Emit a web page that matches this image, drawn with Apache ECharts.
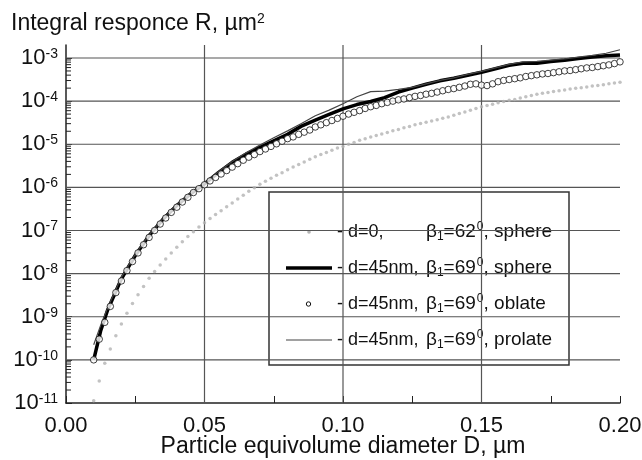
<!DOCTYPE html>
<html><head><meta charset="utf-8">
<script src="https://cdn.jsdelivr.net/npm/echarts@6/dist/echarts.min.js"></script>
<style>html,body{margin:0;padding:0;background:#fff}#c{width:642px;height:460px}</style>
</head><body><div id="c"></div>
<script>
// Particle diameter D (µm) for the dotted / circle series
const dotD = [0.010,0.012,0.014,0.016,0.018,0.020,0.022,0.024,0.026,0.028,
  0.030,0.032,0.034,0.036,0.038,0.040,0.042,0.044,0.046,0.048,
  0.050,0.052,0.054,0.056,0.058,0.060,0.062,0.064,0.066,0.068,
  0.070,0.072,0.074,0.076,0.078,0.080,0.082,0.084,0.086,0.088,
  0.090,0.092,0.094,0.096,0.098,0.100,0.102,0.104,0.106,0.108,
  0.110,0.112,0.114,0.116,0.118,0.120,0.122,0.124,0.126,0.128,
  0.130,0.132,0.134,0.136,0.138,0.140,0.142,0.144,0.146,0.148,
  0.150,0.152,0.154,0.156,0.158,0.160,0.162,0.164,0.166,0.168,
  0.170,0.172,0.174,0.176,0.178,0.180,0.182,0.184,0.186,0.188,
  0.190,0.192,0.194,0.196,0.198,0.200];
// log10(R): d=0, beta1=62°, sphere (gray dots)
const sphere0Log = [-10.95,-10.49,-10.08,-9.75,-9.44,-9.17,-8.92,-8.69,-8.49,-8.30,
  -8.11,-7.95,-7.80,-7.66,-7.52,-7.39,-7.26,-7.14,-7.03,-6.92,
  -6.82,-6.72,-6.63,-6.54,-6.45,-6.36,-6.27,-6.18,-6.09,-6.01,
  -5.93,-5.86,-5.79,-5.72,-5.66,-5.59,-5.53,-5.47,-5.41,-5.35,
  -5.29,-5.24,-5.19,-5.14,-5.09,-5.05,-5.00,-4.96,-4.91,-4.87,
  -4.83,-4.80,-4.76,-4.73,-4.69,-4.66,-4.62,-4.59,-4.55,-4.52,
  -4.49,-4.46,-4.43,-4.40,-4.37,-4.33,-4.29,-4.25,-4.21,-4.17,
  -4.13,-4.10,-4.07,-4.04,-4.01,-3.98,-3.96,-3.93,-3.90,-3.87,
  -3.84,-3.82,-3.80,-3.78,-3.76,-3.74,-3.72,-3.70,-3.69,-3.67,
  -3.65,-3.64,-3.62,-3.60,-3.58,-3.56];
// log10(R): d=45nm, beta1=69°, oblate (open circles)
const oblateLog = [-10.00,-9.52,-9.13,-8.76,-8.44,-8.17,-7.93,-7.72,-7.52,-7.33,
  -7.16,-7.00,-6.85,-6.71,-6.58,-6.46,-6.34,-6.23,-6.12,-6.03,
  -5.94,-5.85,-5.77,-5.69,-5.61,-5.53,-5.45,-5.37,-5.30,-5.24,
  -5.17,-5.11,-5.05,-4.99,-4.93,-4.87,-4.83,-4.77,-4.72,-4.67,
  -4.60,-4.55,-4.50,-4.45,-4.40,-4.35,-4.30,-4.26,-4.22,-4.17,
  -4.13,-4.10,-4.06,-4.03,-4.00,-3.97,-3.95,-3.92,-3.89,-3.87,
  -3.84,-3.82,-3.79,-3.76,-3.73,-3.71,-3.68,-3.65,-3.61,-3.60,
  -3.63,-3.64,-3.60,-3.55,-3.52,-3.50,-3.48,-3.46,-3.43,-3.41,
  -3.39,-3.37,-3.36,-3.34,-3.32,-3.30,-3.29,-3.27,-3.25,-3.23,
  -3.22,-3.20,-3.18,-3.16,-3.13,-3.09];
// D (µm) for the two solid lines
const lineD = [0.010,0.0125,0.015,0.020,0.025,0.030,0.035,0.040,0.045,0.050,
  0.055,0.060,0.065,0.070,0.075,0.080,0.085,0.090,0.095,0.100,
  0.105,0.110,0.115,0.120,0.125,0.130,0.135,0.140,0.145,0.150,
  0.155,0.160,0.165,0.170,0.175,0.180,0.185,0.190,0.195,0.200];
// log10(R): d=45nm, beta1=69°, sphere (thick black line)
const sphere45Log = [-10.00,-9.33,-8.85,-8.12,-7.58,-7.12,-6.74,-6.42,-6.15,-5.92,
  -5.66,-5.42,-5.23,-5.07,-4.92,-4.77,-4.58,-4.44,-4.31,-4.18,
  -4.08,-4.01,-3.92,-3.79,-3.70,-3.61,-3.53,-3.47,-3.40,-3.33,
  -3.25,-3.17,-3.12,-3.12,-3.08,-3.05,-3.01,-2.98,-2.95,-2.93];
// log10(R): d=45nm, beta1=69°, prolate (thin line)
const prolateLog = [-9.65,-9.20,-8.80,-8.08,-7.55,-7.10,-6.72,-6.40,-6.13,-5.89,
  -5.64,-5.40,-5.20,-5.02,-4.85,-4.69,-4.52,-4.34,-4.21,-4.06,
  -3.90,-3.78,-3.77,-3.73,-3.68,-3.60,-3.52,-3.46,-3.38,-3.31,
  -3.23,-3.15,-3.09,-3.08,-3.05,-3.02,-2.98,-2.94,-2.89,-2.81];

const xGridValues = [0.05, 0.10, 0.15];
const yDecadeExps = [-10,-9,-8,-7,-6,-5,-4,-3];
const yMinorMultipliers = [2,3,4,5,6,7,8,9];
const X_MIN = 0, X_MAX = 0.2, Y_MIN = 1e-11, Y_MAX = 2e-3;

const FONT = '"Liberation Sans", Arial, sans-serif';
const pair = (xs, ls) => xs.map((x, i) => [x, Math.pow(10, ls[i])]);

const minorTicks = [];
for (let e = -11; e <= -4; e++) yMinorMultipliers.forEach(k => minorTicks.push([X_MIN, k * Math.pow(10, e)]));

// gridline segments [x1, y1, x2, y2] in data units
const gridSegs = yDecadeExps.map(e => [X_MIN, Math.pow(10, e), X_MAX, Math.pow(10, e)])
  .concat(xGridValues.map(v => [v, Y_MIN, v, Y_MAX]));

const chart = echarts.init(document.getElementById('c'), null, { renderer: 'canvas' });
chart.setOption({
  animation: false,
  backgroundColor: '#fff',
  grid: { left: 66, right: 22, top: 45, bottom: 57, containLabel: false, outerBoundsMode: 'none' },
  xAxis: {
    type: 'value', min: X_MIN, max: X_MAX, interval: 0.05,
    name: 'Particle equivolume diameter D, µm', nameLocation: 'middle', nameGap: 32,
    nameMoveOverlap: false,
    nameTextStyle: { fontFamily: FONT, fontSize: 23, color: '#111' },
    axisLine: { show: true, lineStyle: { color: '#222', width: 1.5 } },
    axisTick: { show: true, inside: true, length: 7, lineStyle: { color: '#222', width: 1 } },
    minorTick: { show: true, splitNumber: 2, length: 7, lineStyle: { color: '#222', width: 1 } },
    axisLabel: { fontFamily: FONT, fontSize: 22, color: '#111', margin: 12,
      formatter: v => v.toFixed(2) },
    splitLine: { show: false }
  },
  yAxis: {
    type: 'log', logBase: 10, min: Y_MIN, max: Y_MAX,
    axisLine: { show: true, lineStyle: { color: '#222', width: 1.5 } },
    axisTick: { show: true, inside: true, length: 6, lineStyle: { color: '#222', width: 1 } },
    axisLabel: {
      showMaxLabel: false, margin: 8, color: '#111',
      formatter: v => '{b|10}{s|' + Math.round(Math.log10(v)) + '}',
      rich: {
        b: { fontFamily: FONT, fontSize: 22, lineHeight: 22, color: '#111' },
        s: { fontFamily: FONT, fontSize: 14, lineHeight: 14, color: '#111', verticalAlign: 'top' }
      }
    },
    splitLine: { show: false }
  },
  series: [
    {
      type: 'custom', name: 'gridlines', silent: true, z: 1,
      data: gridSegs,
      renderItem: (params, api) => {
        const a = api.coord([api.value(0), api.value(1)]);
        const b = api.coord([api.value(2), api.value(3)]);
        return { type: 'line', shape: { x1: a[0], y1: a[1], x2: b[0], y2: b[1] },
          style: { stroke: '#555', lineWidth: 1.2 } };
      }
    },
    {
      type: 'custom', name: 'minorTicks', silent: true, z: 1,
      data: minorTicks,
      renderItem: (params, api) => {
        const p = api.coord([api.value(0), api.value(1)]);
        return { type: 'line', shape: { x1: p[0], y1: p[1], x2: p[0] + 5, y2: p[1] },
          style: { stroke: '#222', lineWidth: 1 } };
      }
    },
    {
      type: 'scatter', name: 'd=0, sphere', z: 3,
      data: pair(dotD, sphere0Log),
      symbol: 'circle', symbolSize: 3.5,
      itemStyle: { color: '#b3b3b3' }
    },
    {
      type: 'line', name: 'd=45nm, sphere', z: 4,
      data: pair(lineD, sphere45Log),
      showSymbol: false, symbol: 'none',
      lineStyle: { color: '#000', width: 3.5 }
    },
    {
      type: 'line', name: 'd=45nm, prolate', z: 5,
      data: pair(lineD, prolateLog),
      showSymbol: false, symbol: 'none',
      lineStyle: { color: '#444', width: 1.2 }
    },
    {
      type: 'scatter', name: 'd=45nm, oblate', z: 6,
      data: pair(dotD, oblateLog),
      symbol: 'circle', symbolSize: 6.5,
      itemStyle: { color: '#fff', borderColor: '#111', borderWidth: 1 }
    }
  ],
  graphic: [
    {
      type: 'text', x: 11, y: 24, z: 100,
      style: {
        text: 'Integral responce R, µm{s|2}', fontFamily: FONT, fontSize: 23, fill: '#111',
        verticalAlign: 'middle',
        rich: { s: { fontFamily: FONT, fontSize: 14, fill: '#111', verticalAlign: 'top', lineHeight: 14 } }
      }
    },
    {
      type: 'group', z: 100,
      children: [
        { type: 'rect', shape: { x: 269, y: 192, width: 300, height: 173 },
          style: { fill: '#fff', stroke: '#333', lineWidth: 1.5 } },
        { type: 'circle', shape: { cx: 309, cy: 232, r: 1.8 }, style: { fill: '#b3b3b3' } },
        { type: 'line', shape: { x1: 286, y1: 268, x2: 332, y2: 268 }, style: { stroke: '#000', lineWidth: 3.5 } },
        { type: 'circle', shape: { cx: 308.5, cy: 304, r: 2.2 }, style: { fill: '#fff', stroke: '#111', lineWidth: 1 } },
        { type: 'line', shape: { x1: 286, y1: 340, x2: 332, y2: 340 }, style: { stroke: '#444', lineWidth: 1.2 } }
      ].concat(
        [['- d=0,', '62', 'sphere', 232], ['- d=45nm,', '69', 'sphere', 268],
         ['- d=45nm,', '69', 'oblate', 304], ['- d=45nm,', '69', 'prolate', 340]]
        .flatMap(r => [
          { type: 'text', x: 337, y: r[3],
            style: { text: r[0], fontFamily: FONT, fontSize: 18, fill: '#111', verticalAlign: 'middle' } },
          { type: 'text', x: 426, y: r[3],
            style: { text: '{n|β}{sub|1}{n|=' + r[1] + '}{sup|0}{n|, ' + r[2] + '}', fill: '#111',
              verticalAlign: 'middle',
              rich: {
                n: { fontFamily: FONT, fontSize: 19, fill: '#111', lineHeight: 22 },
                sub: { fontFamily: FONT, fontSize: 12, fill: '#111', verticalAlign: 'bottom', lineHeight: 12 },
                sup: { fontFamily: FONT, fontSize: 12, fill: '#111', verticalAlign: 'top', lineHeight: 12, padding: [0, 0, 0, 1] }
              } } }
        ]))
    }
  ]
});
</script></body></html>
